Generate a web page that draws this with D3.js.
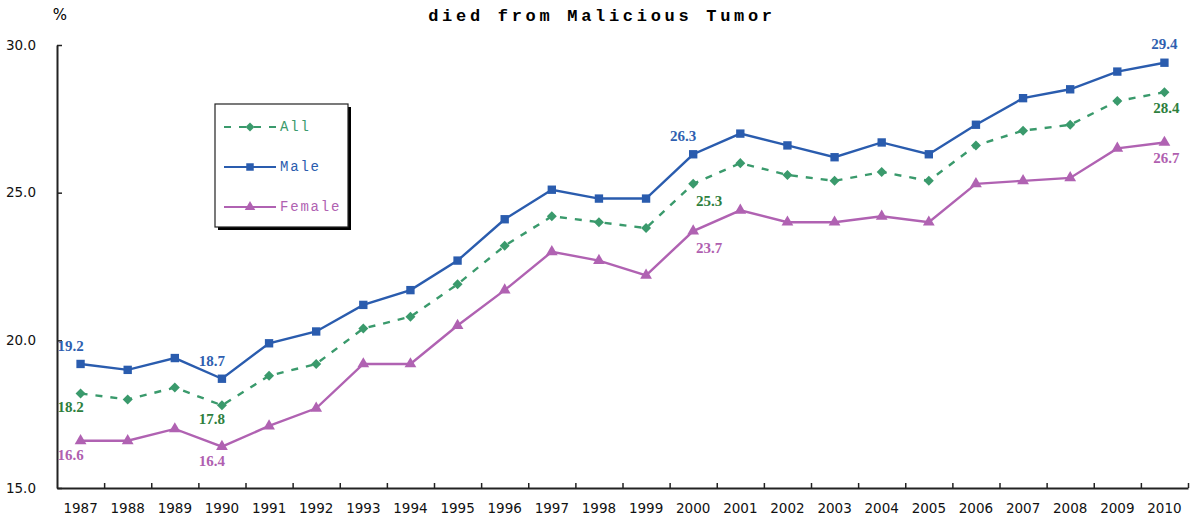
<!DOCTYPE html>
<html lang="en">
<head>
<meta charset="utf-8">
<title>died from Malicious Tumor</title>
<script src="https://d3js.org/d3.v7.min.js"></script>
<style>
body { margin: 0; background: #fff; }
svg { display: block; }
</style>
</head>
<body>
<div id="chart"></div>
<script>
// data
var years  = [1987,1988,1989,1990,1991,1992,1993,1994,1995,1996,1997,1998,
              1999,2000,2001,2002,2003,2004,2005,2006,2007,2008,2009,2010];
var allValues    = [18.2,18.0,18.4,17.8,18.8,19.2,20.4,20.8,21.9,23.2,24.2,24.0,
                    23.8,25.3,26.0,25.6,25.4,25.7,25.4,26.6,27.1,27.3,28.1,28.4];
var maleValues   = [19.2,19.0,19.4,18.7,19.9,20.3,21.2,21.7,22.7,24.1,25.1,24.8,
                    24.8,26.3,27.0,26.6,26.2,26.7,26.3,27.3,28.2,28.5,29.1,29.4];
var femaleValues = [16.6,16.6,17.0,16.4,17.1,17.7,19.2,19.2,20.5,21.7,23.0,22.7,
                    22.2,23.7,24.4,24.0,24.0,24.2,24.0,25.3,25.4,25.5,26.5,26.7];
var yTicks = [15, 20, 25, 30];
var seriesNames = ["All", "Male", "Female"];
// which points carry a value label
var labelled = [
  {series: "Male",   year: 1987, place: "upLeft"},
  {series: "Male",   year: 1990, place: "upLeft"},
  {series: "Male",   year: 2000, place: "upLeft"},
  {series: "Male",   year: 2010, place: "up"},
  {series: "All",    year: 1987, place: "downLeft"},
  {series: "All",    year: 1990, place: "downLeft"},
  {series: "All",    year: 2000, place: "downRight"},
  {series: "All",    year: 2010, place: "down"},
  {series: "Female", year: 1987, place: "downLeft"},
  {series: "Female", year: 1990, place: "downLeft"},
  {series: "Female", year: 2000, place: "downRight"},
  {series: "Female", year: 2010, place: "down"}
];

var W = 1190, H = 519;
var plot = {left: 57, right: 1188, top: 45, bottom: 488};

var styles = {
  All:    {color: "#3a9a6c", label: "#2e7f3e", text: "#3a9a6c", dash: "7,8", symbol: d3.symbolDiamond2, size: 64},
  Male:   {color: "#2a5cae", label: "#2f5fb0", text: "#2a5cae", dash: null,  symbol: d3.symbolSquare,   size: 70},
  Female: {color: "#b062b2", label: "#b05fb0", text: "#b062b2", dash: null,  symbol: d3.symbolTriangle, size: 60}
};
var placeOffset = {
  up: [0, -19], upLeft: [-10, -18], down: [2, 16], downLeft: [-10, 14], downRight: [16, 17]
};

var series = [
  {name: "All", values: allValues},
  {name: "Male", values: maleValues},
  {name: "Female", values: femaleValues}
];

var svg = d3.select("#chart").append("svg")
  .attr("width", W).attr("height", H);

var x = d3.scaleBand().domain(years).range([plot.left, plot.right]);
var xc = function(yr) { return x(yr) + x.bandwidth() / 2; };
var xEdge = d3.scaleLinear().domain([0, years.length]).range([plot.left, plot.right]);
var y = d3.scaleLinear().domain([15, 30]).range([plot.bottom, plot.top]);

// title and unit
svg.append("text")
  .attr("x", 602).attr("y", 21)
  .attr("text-anchor", "middle")
  .style("font-family", "'Liberation Mono', monospace")
  .style("font-weight", "bold")
  .style("font-size", "17px")
  .style("letter-spacing", "3.7px")
  .text("died from Malicious Tumor");

svg.append("text")
  .attr("x", 60).attr("y", 20)
  .attr("text-anchor", "middle")
  .style("font-family", "'DejaVu Sans', sans-serif")
  .style("font-size", "15px")
  .text("%");

// y axis, ticks inside
svg.append("g")
  .attr("transform", "translate(" + plot.left + ",0)")
  .call(d3.axisLeft(y).tickValues(yTicks).tickFormat(d3.format(".1f"))
    .tickSizeInner(-5).tickSizeOuter(0).tickPadding(21));

// x axis: labels at centres, ticks at category edges
var xAxis = svg.append("g")
  .attr("transform", "translate(0," + plot.bottom + ")")
  .call(d3.axisBottom(x).tickSize(0).tickPadding(15));
xAxis.select(".domain").remove();

svg.append("g")
  .attr("transform", "translate(0," + plot.bottom + ")")
  .call(d3.axisBottom(xEdge).tickValues(d3.range(1, years.length + 1))
    .tickFormat("").tickSizeInner(-5).tickSizeOuter(0));

svg.selectAll(".domain").attr("stroke", "#222").attr("stroke-width", 2);
svg.selectAll(".tick line").attr("stroke", "#222").attr("stroke-width", 1.5);
svg.selectAll(".tick text")
  .style("font-family", "'DejaVu Sans', sans-serif")
  .style("font-size", "13.5px")
  .attr("fill", "#111");

// lines
var line = d3.line()
  .x(function(d, i) { return xc(years[i]); })
  .y(function(d) { return y(d); });

var groups = svg.selectAll(".series")
  .data(series)
  .enter().append("g")
  .attr("class", "series");

groups.append("path")
  .attr("d", function(d) { return line(d.values); })
  .attr("fill", "none")
  .attr("stroke", function(d) { return styles[d.name].color; })
  .attr("stroke-width", 2.4)
  .attr("stroke-dasharray", function(d) { return styles[d.name].dash; });

groups.selectAll("path.mark")
  .data(function(d) { return d.values.map(function(v, i) { return {name: d.name, year: years[i], value: v}; }); })
  .enter().append("path")
  .attr("class", "mark")
  .attr("transform", function(d) { return "translate(" + xc(d.year) + "," + y(d.value) + ")"; })
  .attr("d", function(d) { return d3.symbol().type(styles[d.name].symbol).size(styles[d.name].size)(); })
  .attr("fill", function(d) { return styles[d.name].color; });

// value labels
var lookup = {All: allValues, Male: maleValues, Female: femaleValues};
svg.selectAll(".vlabel")
  .data(labelled)
  .enter().append("text")
  .attr("class", "vlabel")
  .attr("x", function(d) { return xc(d.year) + placeOffset[d.place][0]; })
  .attr("y", function(d) { return y(lookup[d.series][years.indexOf(d.year)]) + placeOffset[d.place][1]; })
  .attr("text-anchor", "middle")
  .attr("dominant-baseline", "central")
  .style("font-family", "'Liberation Serif', serif")
  .style("font-weight", "bold")
  .style("font-size", "15px")
  .attr("fill", function(d) { return styles[d.series].label; })
  .text(function(d) { return d3.format(".1f")(lookup[d.series][years.indexOf(d.year)]); });

// legend
var lg = svg.append("g").attr("transform", "translate(215,104)");
lg.append("rect").attr("x", 3).attr("y", 3).attr("width", 133).attr("height", 123).attr("fill", "#000");
lg.append("rect").attr("width", 133).attr("height", 123)
  .attr("fill", "#fff").attr("stroke", "#222").attr("stroke-width", 1.2);

var items = lg.selectAll(".item")
  .data(seriesNames)
  .enter().append("g")
  .attr("transform", function(d, i) { return "translate(0," + (23 + i * 40) + ")"; });

items.append("line")
  .attr("x1", 9).attr("x2", 61)
  .attr("stroke", function(d) { return styles[d].color; })
  .attr("stroke-width", 2)
  .attr("stroke-dasharray", function(d) { return styles[d].dash; });
items.append("path")
  .attr("transform", "translate(35,0)")
  .attr("d", function(d) { return d3.symbol().type(styles[d].symbol).size(styles[d].size * 0.8)(); })
  .attr("fill", function(d) { return styles[d].color; });
items.append("text")
  .attr("x", 65).attr("y", 0)
  .attr("dominant-baseline", "central")
  .style("font-family", "'Liberation Mono', monospace")
  .style("font-size", "14px")
  .style("letter-spacing", "1.8px")
  .attr("fill", function(d) { return styles[d].text; })
  .text(function(d) { return d; });
</script>
</body>
</html>
